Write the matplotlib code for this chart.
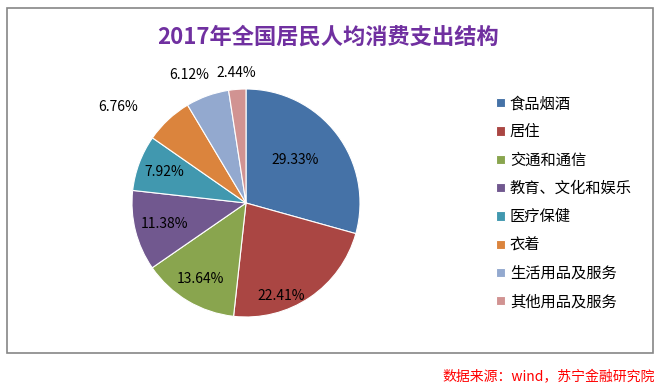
import numpy as np
import matplotlib.pyplot as plt
from matplotlib.patches import Rectangle

plt.rcParams['font.family'] = ['Noto Sans CJK SC', 'DejaVu Sans']

categories = ["食品烟酒", "居住", "交通和通信", "教育、文化和娱乐",
              "医疗保健", "衣着", "生活用品及服务", "其他用品及服务"]
shares = [29.33, 22.41, 13.64, 11.38, 7.92, 6.76, 6.12, 2.44]
colors = ["#4572A7", "#AA4643", "#89A54E", "#71588F",
          "#4198AF", "#DB843D", "#93A9CF", "#D19392"]
# label placement (radius factor, angle shift in degrees)
label_r = [0.57, 0.87, 0.78, 0.74, 0.77, 1.40, 1.23, 1.14]
label_shift = [4, -13, 0, 0, 0, 10, 4, 0]

fig = plt.figure(figsize=(6.63, 3.86), dpi=100)
W, H = 663, 386

# outer frame
fig.patches.append(Rectangle((6.5 / W, 1 - 353 / H), 646.5 / W, 345 / H,
                             transform=fig.transFigure, fill=False,
                             edgecolor="#868686", linewidth=1.2))

fig.text(328 / W, 1 - 37 / H, "2017年全国居民人均消费支出结构", ha="center", va="center",
         fontsize=16, fontweight="bold", color="#7030A0")

cx, cy, r = 246, 203, 114
ax = fig.add_axes([(cx - r) / W, 1 - (cy + r) / H, 2 * r / W, 2 * r / H])
wedges, _ = ax.pie(shares, colors=colors, startangle=90, counterclock=False,
                   radius=1, wedgeprops=dict(edgecolor="white", linewidth=0.8))
ax.set_xlim(-1, 1)
ax.set_ylim(-1, 1)
ax.set_aspect("equal")
ax.axis("off")

for w, val, lr, sh in zip(wedges, shares, label_r, label_shift):
    ang = np.deg2rad((w.theta1 + w.theta2) / 2 + sh)
    ax.text(lr * np.cos(ang), lr * np.sin(ang), f"{val:.2f}%",
            ha="center", va="center", fontsize=10, color="black", clip_on=False)

fig.legend(wedges, categories, loc="upper left", bbox_to_anchor=(490 / W, 1 - 89 / H),
           frameon=False, fontsize=11, handlelength=0.55, handleheight=0.55,
           handletextpad=0.35, labelspacing=0.74, borderaxespad=0)

fig.text(655 / W, 1 - 377 / H, "数据来源：wind，苏宁金融研究院", ha="right", va="center",
         fontsize=10, color="red", style="italic")

fig.savefig("out.png", dpi=100)
